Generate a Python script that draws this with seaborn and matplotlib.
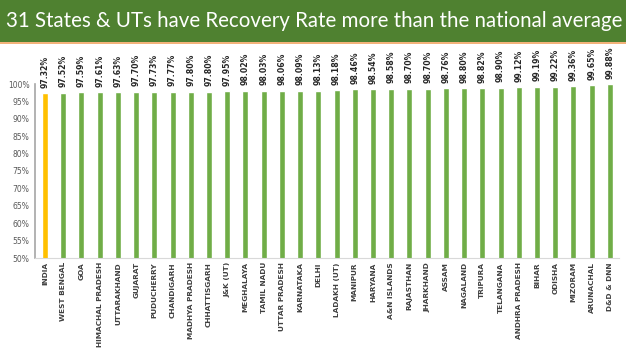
import numpy as np
import pandas as pd
import matplotlib
matplotlib.use("Agg")
import matplotlib.pyplot as plt
import seaborn as sns
from matplotlib.patches import Rectangle
from matplotlib.ticker import FuncFormatter

states = ["INDIA", "WEST BENGAL", "GOA", "HIMACHAL PRADESH", "UTTARAKHAND", "GUJARAT",
          "PUDUCHERRY", "CHANDIGARH", "MADHYA PRADESH", "CHHATTISGARH", "J&K (UT)",
          "MEGHALAYA", "TAMIL NADU", "UTTAR PRADESH", "KARNATAKA", "DELHI", "LADAKH (UT)",
          "MANIPUR", "HARYANA", "A&N ISLANDS", "RAJASTHAN", "JHARKHAND", "ASSAM",
          "NAGALAND", "TRIPURA", "TELANGANA", "ANDHRA PRADESH", "BIHAR", "ODISHA",
          "MIZORAM", "ARUNACHAL", "D&D & DNN"]
recovery = [97.32, 97.52, 97.59, 97.61, 97.63, 97.70, 97.73, 97.77, 97.80, 97.80, 97.95,
            98.02, 98.03, 98.06, 98.09, 98.13, 98.18, 98.46, 98.54, 98.58, 98.70, 98.70,
            98.76, 98.80, 98.82, 98.90, 99.12, 99.19, 99.22, 99.36, 99.65, 99.88]
group = ["national"] + ["state"] * (len(states) - 1)
title = "31 States & UTs have Recovery Rate more than the national average"

df = pd.DataFrame({"state": states, "rate": recovery, "group": group})

sns.set_style("white")
plt.rcParams["font.family"] = ["DejaVu Sans"]

fig = plt.figure(figsize=(6.26, 3.52), dpi=100)
fig.patch.set_facecolor("white")

# header band
fig.patches.append(Rectangle((0, 1 - 42 / 352), 1, 42 / 352, transform=fig.transFigure,
                             facecolor="#4F8130", edgecolor="none", zorder=0))
fig.patches.append(Rectangle((0, 1 - 44 / 352), 1, 2 / 352, transform=fig.transFigure,
                             facecolor="#F2B27A", edgecolor="none", zorder=0))
fig.text(0.01, 1 - 21 / 352, title, color="white", fontsize=14.8, family="Lato",
         va="center", ha="left")

ax = fig.add_axes([35 / 626, (352 - 258) / 352, (619 - 35) / 626, (258 - 84) / 352])
sns.barplot(data=df, x="state", y="rate", hue="group", palette={"national": "#FFC000", "state": "#70AD47"},
            width=0.33, dodge=False, legend=False, ax=ax, saturation=1)

ax.set_ylim(50, 100)
ax.set_xlim(-0.55, len(states) - 0.5)
ax.set_yticks(np.arange(50, 101, 5))
ax.yaxis.set_major_formatter(FuncFormatter(lambda v, p: f"{v:.0f}%"))
ax.tick_params(axis="y", labelsize=5.5, labelcolor="#595959", length=0, pad=4)
ax.tick_params(axis="x", labelsize=5.3, labelcolor="#404040", length=0, pad=3, rotation=90)
for lbl in ax.get_xticklabels():
    lbl.set_fontweight("bold")
ax.set_xlabel("")
ax.set_ylabel("")

for s in ["top", "right"]:
    ax.spines[s].set_visible(False)
ax.spines["left"].set_color("#A6A6A6")
ax.spines["left"].set_linewidth(1.2)
ax.spines["bottom"].set_color("#D9D9D9")

for i, v in enumerate(recovery):
    ax.annotate(f"{v:.2f}%", (i, v), xytext=(0, 4), textcoords="offset points",
                rotation=90, ha="center", va="bottom", fontsize=5.6, fontweight="bold",
                color="#262626", annotation_clip=False)

fig.savefig("out.png", dpi=100, facecolor="white")
